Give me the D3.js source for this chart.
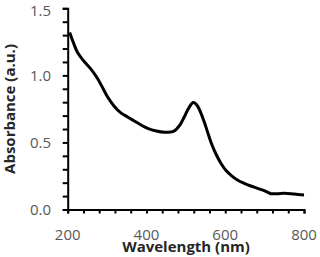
<!DOCTYPE html>
<html lang="en">
<head>
    <meta charset="UTF-8">
    <style>
        body { margin: 0; background: #fff; }
        text { font-family: "Open Sans", "Liberation Sans", sans-serif; }
    </style>
    <title>Absorbance</title>
    <script src="https://d3js.org/d3.v7.min.js"></script>
</head>
<body>

<div id="chart"></div>

<script>
    // data
    const wavelength = [205, 215, 225, 240, 258, 275, 290, 301, 318, 335, 352, 369, 386, 403, 425, 445, 470, 485, 496, 508, 519, 530, 538, 547, 556, 564, 577, 589, 602, 614, 631, 648, 665, 682, 699, 716, 733, 750, 775, 800]
    const absorbance = [1.32, 1.24, 1.17, 1.11, 1.05, 0.98, 0.90, 0.84, 0.77, 0.72, 0.69, 0.66, 0.63, 0.605, 0.585, 0.576, 0.585, 0.63, 0.69, 0.76, 0.797, 0.77, 0.72, 0.65, 0.57, 0.50, 0.41, 0.345, 0.29, 0.257, 0.22, 0.195, 0.175, 0.158, 0.14, 0.118, 0.118, 0.121, 0.115, 0.108]
    const xTicks = [200, 400, 600, 800]
    const yTicks = [0, 0.5, 1.0, 1.5]

    const W = 320, H = 257
    const svg = d3.select("#chart").append("svg")
        .attr("width", W).attr("height", H)

    const x = d3.scaleLinear().domain([200, 800]).range([67.7, 304])
    const y = d3.scaleLinear().domain([0, 1.5]).range([209.5, 8.3])

    // x axis: small ticks every 40 nm, labels every 200
    const xAxis = svg.append("g")
        .attr("transform", `translate(0, ${y(0)})`)
        .call(d3.axisBottom(x).tickValues(d3.range(200, 801, 40)).tickSize(4).tickFormat(""))
    xAxis.select(".domain").attr("stroke", "#000").attr("stroke-width", 2)
    xAxis.selectAll(".tick line").attr("stroke", "#000").attr("stroke-width", 2)

    svg.append("g").selectAll("text").data(xTicks).join("text")
        .attr("x", d => x(d))
        .attr("y", 240)
        .attr("text-anchor", "middle")
        .attr("font-size", "15px")
        .attr("fill", "#595959")
        .text(d => d)

    // y axis: ticks every 0.1
    const yAxis = svg.append("g")
        .attr("transform", `translate(${x(200)}, 0)`)
        .call(d3.axisLeft(y).tickValues(d3.range(0, 16).map(i => i / 10)).tickSize(5).tickFormat(""))
    yAxis.select(".domain").attr("stroke", "#000").attr("stroke-width", 2)
    yAxis.selectAll(".tick line").attr("stroke", "#000").attr("stroke-width", 2)

    svg.append("g").selectAll("text").data(yTicks).join("text")
        .attr("x", 51)
        .attr("y", d => Math.max(y(d), 11))
        .attr("dy", "0.35em")
        .attr("text-anchor", "end")
        .attr("font-size", "15px")
        .attr("fill", "#595959")
        .text(d => d.toFixed(1))

    // curve
    const line = d3.line()
        .x((d, i) => x(wavelength[i]))
        .y(d => y(d))
        .curve(d3.curveCatmullRom)
    svg.append("path")
        .datum(absorbance)
        .attr("d", line)
        .attr("fill", "none")
        .attr("stroke", "#000")
        .attr("stroke-width", 3)
        .attr("stroke-linejoin", "round")

    // axis titles
    svg.append("text")
        .attr("x", 186)
        .attr("y", 252)
        .attr("text-anchor", "middle")
        .attr("font-size", "15px")
        .attr("font-weight", "bold")
        .attr("fill", "#262626")
        .text("Wavelength (nm)")

    svg.append("text")
        .attr("transform", "translate(15, 109) rotate(-90)")
        .attr("text-anchor", "middle")
        .attr("font-size", "15px")
        .attr("font-weight", "bold")
        .attr("fill", "#262626")
        .text("Absorbance (a.u.)")
</script>
</body>
</html>
